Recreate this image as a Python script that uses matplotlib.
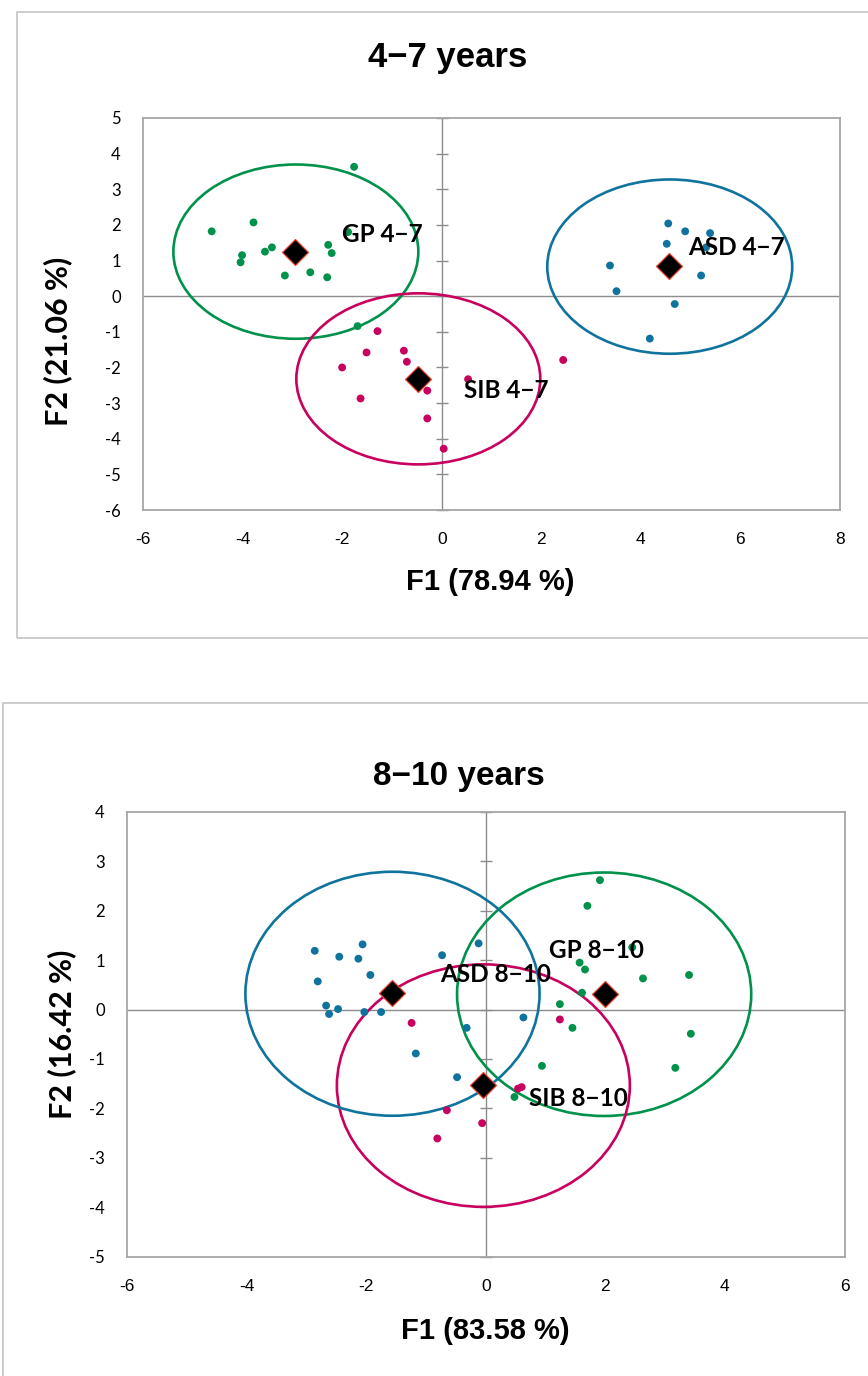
import matplotlib
matplotlib.use("Agg")
import matplotlib.pyplot as plt
from matplotlib.patches import Ellipse, Rectangle
from matplotlib import font_manager as fm
import numpy as np

# ---------------- data ----------------
# 4-7 years
gp47_x = [-1.76, -4.62, -3.78, -4.01, -4.04, -3.55, -3.41, -3.15, -2.64, -2.30, -2.28, -2.21, -1.88, -1.69]
gp47_y = [3.63, 1.82, 2.07, 1.15, 0.95, 1.25, 1.37, 0.58, 0.67, 0.53, 1.44, 1.21, 1.80, -0.84]
sib47_x = [-1.29, -1.51, -2.00, -1.63, -0.76, -0.70, -0.29, -0.29, 0.04, 0.53, 2.44]
sib47_y = [-0.98, -1.58, -2.00, -2.87, -1.53, -1.84, -2.65, -3.43, -4.28, -2.33, -1.79]
asd47_x = [4.55, 4.89, 5.39, 4.52, 5.31, 3.38, 5.21, 3.51, 4.68, 4.18]
asd47_y = [2.04, 1.82, 1.77, 1.47, 1.37, 0.86, 0.58, 0.14, -0.22, -1.19]
cent47_names = ["GP 4\u22127", "SIB 4\u22127", "ASD 4\u22127"]
cent47_x = [-2.95, -0.47, 4.57]
cent47_y = [1.25, -2.33, 0.84]
ell47_cx = [-2.93, -0.47, 4.58]
ell47_cy = [1.25, -2.32, 0.83]
ell47_w = [4.92, 4.90, 4.92]
ell47_h = [4.89, 4.80, 4.89]
lab47_x = [-2.00, 0.45, 4.95]
lab47_y = [1.74, -2.65, 1.37]

# 8-10 years
asd810_x = [-2.86, -2.45, -2.13, -2.06, -1.93, -2.81, -2.67, -2.62, -2.47, -2.03, -1.75, -0.73, -0.12, 0.63, -0.32, -1.17, -0.48]
asd810_y = [1.19, 1.07, 1.03, 1.32, 0.70, 0.57, 0.08, -0.09, 0.01, -0.05, -0.05, 1.10, 1.34, -0.16, -0.37, -0.89, -1.37]
sib810_x = [-1.24, 1.24, 0.54, 0.60, -0.65, -0.06, -0.81]
sib810_y = [-0.27, -0.20, -1.60, -1.57, -2.04, -2.30, -2.61]
gp810_x = [1.91, 1.70, 2.45, 1.57, 1.66, 2.63, 3.40, 1.61, 1.24, 1.45, 3.43, 0.94, 3.17, 0.48]
gp810_y = [2.62, 2.10, 1.26, 0.95, 0.81, 0.63, 0.70, 0.34, 0.11, -0.37, -0.49, -1.14, -1.18, -1.77]
cent810_names = ["GP 8\u221210", "SIB 8\u221210", "ASD 8\u221210"]
cent810_x = [1.99, -0.04, -1.57]
cent810_y = [0.31, -1.53, 0.33]
ell810_cx = [1.98, -0.04, -1.56]
ell810_cy = [0.31, -1.54, 0.32]
ell810_w = [4.92, 4.90, 4.92]
ell810_h = [4.93, 4.91, 4.94]
lab810_x = [1.05, 0.72, -0.76]
lab810_y = [1.19, -1.81, 0.70]

xticks47 = list(range(-6, 9, 2))
yticks47 = list(range(-6, 6))
xticks810 = list(range(-6, 7, 2))
yticks810 = list(range(-5, 5))

# ---------------- style ----------------
GREEN = "#00924A"
PINK = "#C8005E"
BLUE = "#10739E"
GRID = "#8C8C8C"
BORDER = "#A6A6A6"

avail = {f.name for f in fm.fontManager.ttflist}
NARROW = "Liberation Sans Narrow" if "Liberation Sans Narrow" in avail else "Liberation Sans"
CAL = "Lato" if "Lato" in avail else "DejaVu Sans"

W, H = 868, 1376
fig = plt.figure(figsize=(W / 100, H / 100), dpi=100)


def fx(px):
    return px / W


def fy(py):
    return 1 - py / H


def px_axes(l, t, r, b):
    return fig.add_axes([fx(l), fy(b), (r - l) / W, (b - t) / H])


# panel frames
fig.patches.append(Rectangle((fx(16.6), fy(638)), 1.2, (638 - 12.3) / H, transform=fig.transFigure,
                             fill=False, ec="#BFBFBF", lw=1.1))
fig.patches.append(Rectangle((fx(2.8), fy(1400)), 1.2, (1400 - 702.7) / H, transform=fig.transFigure,
                             fill=False, ec="#BFBFBF", lw=1.1))


def draw_panel(ax, groups, cx, cy, names, ecx, ecy, ew, eh, lx, ly, colors, xt, yt, xlim, ylim):
    ax.set_xlim(*xlim)
    ax.set_ylim(*ylim)
    for s in ax.spines.values():
        s.set_color(BORDER)
        s.set_linewidth(1.3)
    ax.axhline(0, color=GRID, lw=1.0, zorder=1)
    ax.axvline(0, color=GRID, lw=1.0, zorder=1)
    ax.plot(np.zeros(len(yt)), yt, linestyle="none", marker="_", ms=9, mew=1.0, color=GRID, zorder=1,
            clip_on=False)
    ax.set_xticks(xt)
    ax.set_yticks(yt)
    ax.tick_params(length=0)
    ax.tick_params(axis="x", pad=16)
    ax.tick_params(axis="y", pad=16)
    ax.set_xticklabels([str(v) for v in xt])
    ax.set_yticklabels([str(v) for v in yt])
    for t in ax.get_xticklabels():
        t.set_family(NARROW)
        t.set_fontsize(12.5)
    for t in ax.get_yticklabels():
        t.set_family(CAL)
        t.set_fontsize(12)
    for (gx, gy), c in zip(groups, colors):
        ax.scatter(gx, gy, s=32, color=c, edgecolors="none", zorder=3)
    for i, c in enumerate(colors):
        ax.add_patch(Ellipse((ecx[i], ecy[i]), ew[i], eh[i], fill=False, ec=c, lw=1.9, zorder=2))
    ax.plot(cx, cy, linestyle="none", marker="D", ms=13, mfc="black", mec="#E8402A", mew=0.9, zorder=5)
    for i, n in enumerate(names):
        ax.text(lx[i], ly[i], n, family=CAL, fontweight="bold", fontsize=17.5, va="center", ha="left",
                zorder=6)


ax1 = px_axes(143, 118, 840, 510)
draw_panel(ax1, [(gp47_x, gp47_y), (sib47_x, sib47_y), (asd47_x, asd47_y)], cent47_x, cent47_y,
           cent47_names, ell47_cx, ell47_cy, ell47_w, ell47_h, lab47_x, lab47_y,
           [GREEN, PINK, BLUE], xticks47, yticks47, (-6, 8), (-6, 5))

ax2 = px_axes(127, 812, 844.5, 1256.5)
draw_panel(ax2, [(gp810_x, gp810_y), (sib810_x, sib810_y), (asd810_x, asd810_y)], cent810_x, cent810_y,
           cent810_names, ell810_cx, ell810_cy, ell810_w, ell810_h, lab810_x, lab810_y,
           [GREEN, PINK, BLUE], xticks810, yticks810, (-6, 6), (-5, 4))

# titles and axis titles
fig.text(fx(448), fy(58), "4\u22127 years", family=NARROW, fontweight="bold", fontsize=25,
         ha="center", va="center")
fig.text(fx(459), fy(776), "8\u221210 years", family=NARROW, fontweight="bold", fontsize=24,
         ha="center", va="center")
fig.text(fx(490), fy(582), "F1 (78.94 %)", family=NARROW, fontweight="bold", fontsize=21,
         ha="center", va="center")
fig.text(fx(485), fy(1331), "F1 (83.58 %)", family=NARROW, fontweight="bold", fontsize=21,
         ha="center", va="center")
fig.text(fx(58), fy(341), "F2 (21.06 %)", family=CAL, fontweight="bold", fontsize=22,
         ha="center", va="center", rotation=90)
fig.text(fx(62), fy(1034), "F2 (16.42 %)", family=CAL, fontweight="bold", fontsize=22,
         ha="center", va="center", rotation=90)

fig.savefig("out.png", dpi=100)
